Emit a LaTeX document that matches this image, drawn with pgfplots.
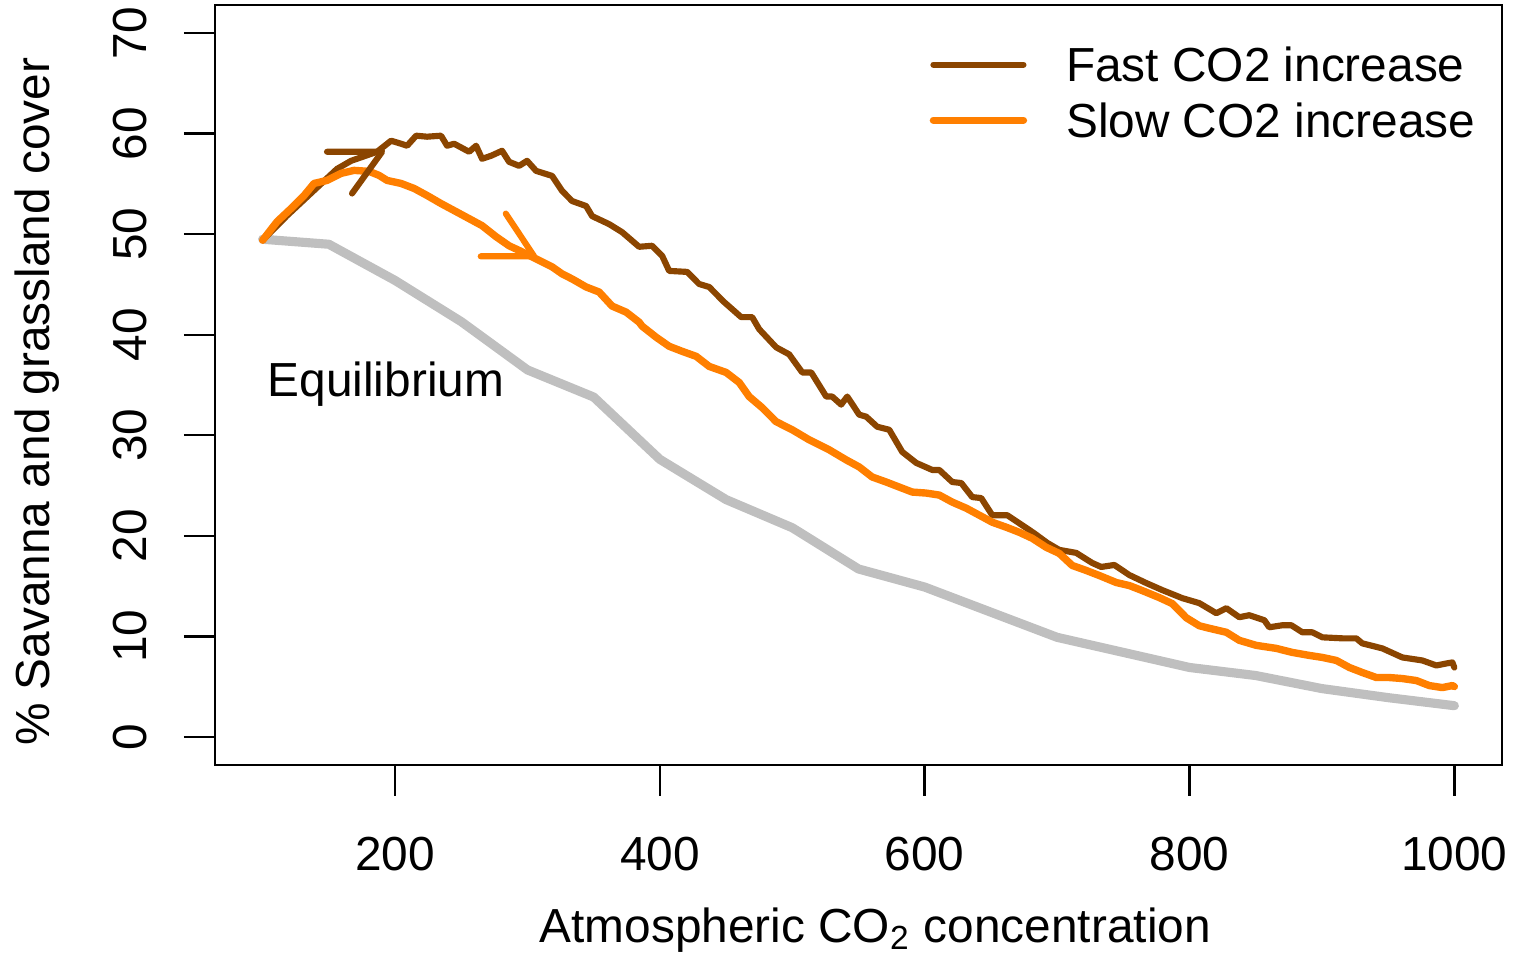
\documentclass[border=0pt]{standalone}
\usepackage{pgfplots}
\pgfplotsset{compat=1.18}
\usepackage{fontspec}
\setmainfont{Liberation Sans}
\definecolor{cbrown}{HTML}{8B4500}
\definecolor{corange}{HTML}{FF7F00}
\definecolor{cgray}{HTML}{BFBFBF}
\begin{document}
\begin{tikzpicture}[font=\fontsize{13.6}{16.3}\selectfont]
\begin{axis}[
  at={(0,0)}, anchor=south west,
  scale only axis, width=12.87cm, height=7.60cm,
  xmin=64, xmax=1036, ymin=-2.8, ymax=72.8,
  axis line style={line width=0.7pt},
  xtick={200,400,600,800,1000}, ytick={0,10,20,30,40,50,60,70},
  xtick pos=left, ytick pos=left,
  tick align=outside, major tick length=0.31cm,
  tick style={line width=0.7pt, black},
  /pgf/number format/assume math mode=true,
  /pgf/number format/1000 sep={},
  tick label style={font=\fontsize{13.6}{16.3}\selectfont},
  xticklabel style={anchor=north, inner sep=0pt, yshift=-0.40cm},
  yticklabel style={xshift=-0.36cm, rotate=90, anchor=south, inner sep=0pt},
  every axis x label/.style={at={(axis description cs:0.513,0)}, anchor=base, yshift=-1.77cm, inner sep=0pt},
  every axis y label/.style={at={(axis description cs:0,0.478)}, xshift=-1.65cm, rotate=90, anchor=base, inner sep=0pt},
  xlabel={Atmospheric CO\textsubscript{2} concentration},
  ylabel={\% Savanna and grassland cover},
  legend style={draw=none, fill=none, at={(axis description cs:0.5548,0.9450)}, anchor=north west,
    inner sep=0pt, row sep=6.0pt, column sep=0.39cm,
    nodes={inner sep=0pt, text height=9.8pt, text depth=0pt}},
  legend cell align=left,
  legend image code/.code={\draw[#1, line cap=round] (0cm,0cm) -- (0.9cm,0cm);},
  every axis plot/.append style={line join=round, line cap=round},
]
\addplot[cgray, line width=2.6pt, forget plot] coordinates {
(100,49.5) (150,49.0) (200,45.4) (250,41.3) (300,36.5) (350,33.8) (400,27.6)
(450,23.6) (500,20.8) (550,16.7) (600,14.9) (650,12.4) (700,9.9) (750,8.4)
(800,6.9) (850,6.1) (900,4.8) (950,3.9) (1000,3.1)
};
\addplot[cbrown, line width=1.75pt] coordinates {
(100,49.4) (118.4,51.85) (156.2,56.5) (166.8,57.3) (186.4,58.2) (197.0,59.3)
(204.5,59.0) (209.1,58.8) (215.9,59.8) (224.2,59.7) (234.7,59.8) (239.3,58.8)
(244.6,59.0) (255.9,58.2) (261.2,58.8) (265.7,57.5) (272.5,57.8) (280.8,58.3)
(286.1,57.2) (293.7,56.8) (299.7,57.3) (306.5,56.3) (318.6,55.8) (326.2,54.3)
(333.7,53.3) (344.3,52.8) (348.8,51.8) (361.7,51.0) (371.5,50.2) (384.3,48.75)
(394.1,48.85) (401.7,47.85) (407.0,46.35) (420.6,46.25) (429.6,45.05) (437.2,44.75)
(448.5,43.25) (461.4,41.75) (469.7,41.75) (475.0,40.55) (487.8,38.75) (497.6,38.05)
(507.5,36.25) (514.3,36.25) (525.6,33.85) (530.1,33.85) (536.9,33.05) (541.5,33.85)
(550.5,32.05) (555.8,31.85) (564.1,30.85) (573.2,30.55) (583.0,28.35) (593.6,27.25)
(605.7,26.55) (611.0,26.55) (620.8,25.35) (627.6,25.25) (635.9,23.85) (642.7,23.75)
(651.0,22.05) (662.3,22.05) (671.4,21.25) (682.7,20.25) (692.5,19.3) (701.6,18.6)
(714.4,18.3) (726.5,17.3) (733.3,16.9) (743.2,17.1) (754.5,16.1) (767.3,15.3)
(779.4,14.6) (794.5,13.8) (807.4,13.3) (820.2,12.3) (827.8,12.8) (837.6,11.9)
(845.1,12.1) (856.5,11.6) (860.2,10.9) (870.1,11.1) (876.9,11.1) (885.2,10.4)
(892.7,10.4) (900.3,9.9) (915.4,9.8) (925.9,9.8) (930.5,9.3) (945.6,8.8)
(960.7,7.9) (975.8,7.6) (986.4,7.1) (994.0,7.3) (998.5,7.4) (1000,6.9)
};
\addlegendentry{Fast CO2 increase}
\addplot[corange, line width=2.1pt] coordinates {
(100,49.4) (110.9,51.25) (121.4,52.55) (131.3,53.85) (138.8,55.05) (148.6,55.35)
(159.2,56.05) (169.0,56.35) (180.4,56.25) (187.9,55.85) (194.0,55.35) (204.5,55.05)
(214.4,54.55) (224.2,53.85) (234.7,53.05) (244.6,52.35) (255.9,51.55) (265.7,50.85)
(276.3,49.75) (286.1,48.85) (295.9,48.25) (306.5,47.55) (318.6,46.75) (326.2,46.05)
(333.7,45.55) (344.3,44.75) (354.1,44.25) (363.9,42.85) (374.5,42.25) (384.3,41.25)
(386.6,40.85) (397.2,39.75) (407.0,38.85) (416.8,38.35) (427.4,37.85) (437.2,36.85)
(450.0,36.25) (459.9,35.25) (467.4,33.85) (477.2,32.75) (487.8,31.35) (499.9,30.55)
(512.7,29.55) (527.9,28.55) (540.7,27.55) (550.5,26.85) (560.3,25.85) (570.9,25.35)
(580.7,24.85) (590.6,24.35) (601.1,24.25) (611.0,24.05) (620.8,23.35) (631.3,22.75)
(641.2,22.05) (651.0,21.35) (661.6,20.85) (671.4,20.35) (681.2,19.75) (691.8,18.85)
(701.6,18.25) (711.4,17.05) (722.0,16.55) (731.8,16.05) (744.7,15.35) (754.5,15.05)
(764.3,14.55) (777.2,13.85) (787.0,13.25) (797.5,11.85) (807.4,11.05) (814.9,10.8)
(827.8,10.4) (837.6,9.6) (850.4,9.1) (865.5,8.8) (877.6,8.4) (890.5,8.1)
(900.3,7.9) (910.9,7.6) (920.7,6.9) (930.5,6.4) (941.1,5.9) (950.9,5.9)
(960.7,5.8) (971.3,5.6) (981.1,5.1) (990.9,4.9) (998.5,5.1) (1000,5.0)
};
\addlegendentry{Slow CO2 increase}
\draw[cbrown, line width=1.75pt, line cap=round, line join=round]
  (axis cs:148.6,58.2) -- (axis cs:190.2,58.2) -- (axis cs:167.5,54.05);
\draw[corange, line width=1.75pt, line cap=round, line join=round]
  (axis cs:264.7,47.8) -- (axis cs:305.0,47.8) -- (axis cs:283.6,52.05);
\node[anchor=base west, inner sep=0pt] at (axis cs:103.3,33.87) {Equilibrium};
\end{axis}
\pgfresetboundingbox
\path (-2.15cm,-1.88cm) rectangle (12.98cm,7.65cm);
\end{tikzpicture}
\end{document}
